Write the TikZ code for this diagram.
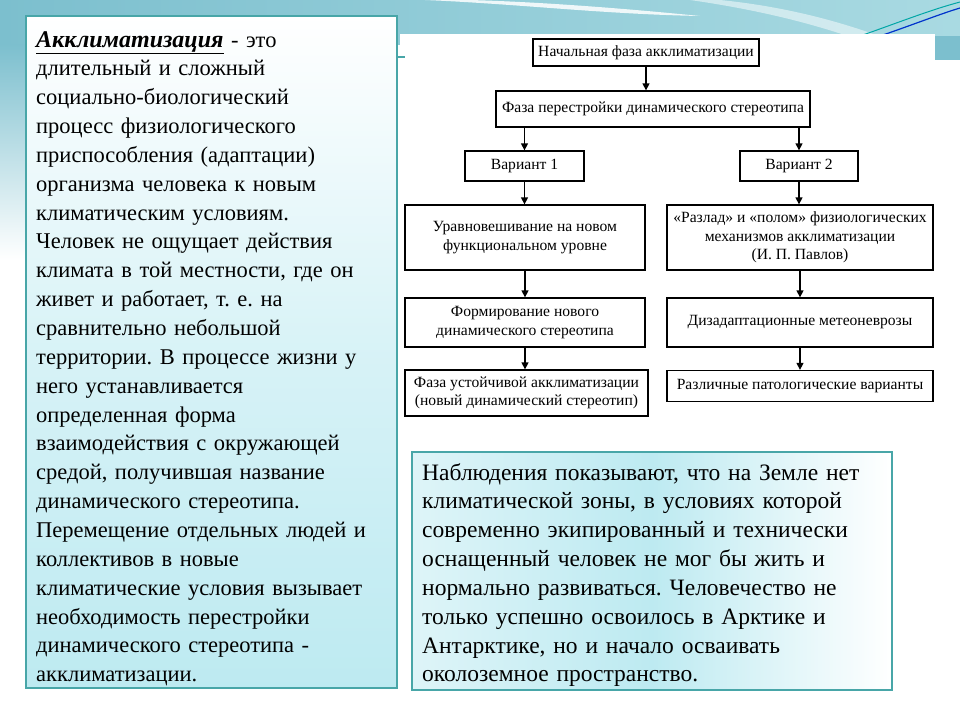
\documentclass[tikz,border=0pt]{standalone}
\usepackage{fontspec}
\setmainfont{Liberation Serif}
\frenchspacing
\usetikzlibrary{arrows.meta,shadings}
\definecolor{teal1}{HTML}{7CBFCE}
\definecolor{teal2}{HTML}{A9DAE2}
\definecolor{bordc}{HTML}{48A6A8}
\definecolor{cyanf}{HTML}{BDEAF1}
\tikzset{
  fbox/.style={draw=black, line width=1.3pt, fill=white, inner sep=2pt, align=center,
    font=\fontsize{15.6}{18.5}\selectfont},
  farrow/.style={draw=black, line width=1.3pt, -{Triangle[length=7pt,width=7pt]}},
  tbox/.style={draw=bordc, line width=1.5pt},
}
\begin{document}
\begin{tikzpicture}[x=1pt,y=-1pt]
\useasboundingbox (0,0) rectangle (960,720);
% background
\fill[white] (0,0) rectangle (960,720);
\shade[left color=teal1, right color=teal2] (0,0) rectangle (960,44);
\shade[top color=teal1, bottom color=white] (0,44) rectangle (30,260);
\fill[white, opacity=0.85] (425,0) .. controls (520,4) and (600,14) .. (700,16) .. controls (620,8) and (540,2) .. (470,0) -- cycle;
\fill[white, opacity=0.5] (690,0) .. controls (760,10) and (820,25) .. (870,44) -- (900,44) .. controls (840,20) and (780,6) .. (720,0) -- cycle;
\draw[color=teal!70!cyan, line width=1pt] (860,36) .. controls (900,22) and (930,10) .. (960,2);
\draw[color=blue!60!teal, line width=1.2pt] (880,36) .. controls (915,24) and (940,14) .. (960,8);
\fill[teal1] (935,36) rectangle (960,60);
\fill[white] (400,34) rectangle (935,425);
\draw[bordc, line width=1.5pt] (397,57) -- (405,57);

% left text box
\shade[top color=white, bottom color=cyanf, middle color=white!40!cyanf] (26,16) rectangle (397,688);
\draw[tbox] (26,16) rectangle (397,688);
\node[anchor=base west, inner sep=0, text width=360pt,
  font=\fontsize{22.5}{28.85}\selectfont] (lt) at (36,47) {%
{\fontsize{24}{28.85}\selectfont\underline{\textbf{\textit{Акклиматизация}}}} - это\\
длительный и сложный\\
социально-биологический\\
процесс физиологического\\
приспособления (адаптации)\\
организма человека к новым\\
климатическим условиям.\\
Человек не ощущает действия\\
климата в той местности, где он\\
живет и работает, т. е. на\\
сравнительно небольшой\\
территории. В процессе жизни у\\
него устанавливается\\
определенная форма\\
взаимодействия с окружающей\\
средой, получившая название\\
динамического стереотипа.\\
Перемещение отдельных людей и\\
коллективов в новые\\
климатические условия вызывает\\
необходимость перестройки\\
динамического стереотипа -\\
акклиматизации.};

% bottom right box
\shade[left color=white!50!cyanf, right color=white, middle color=cyanf] (412,452) rectangle (892,690);
\draw[tbox] (412,452) rectangle (892,690);
\node[anchor=base west, inner sep=0, text width=470pt,
  font=\fontsize{23.5}{28.85}\selectfont] (rt) at (422,480) {%
Наблюдения показывают, что на Земле нет\\
климатической зоны, в условиях которой\\
современно экипированный и технически\\
оснащенный человек не мог бы жить и\\
нормально развиваться. Человечество не\\
только успешно освоилось в Арктике и\\
Антарктике, но и начало осваивать\\
околоземное пространство.};

% flowchart
\node[fbox, minimum width=226pt, minimum height=27pt] (b1) at (646,52.5) {Начальная фаза акклиматизации};
\node[fbox, minimum width=314pt, minimum height=36pt] (b2) at (653,109) {Фаза перестройки динамического стереотипа};
\node[fbox, minimum width=119pt, minimum height=30pt] (v1) at (524.5,166) {Вариант 1};
\node[fbox, minimum width=118pt, minimum height=30pt] (v2) at (799,166) {Вариант 2};
\node[fbox, minimum width=240pt, minimum height=65pt] (l4) at (525,237.5) {Уравновешивание на новом\\функциональном уровне};
\node[fbox, minimum width=266pt, minimum height=65pt] (r4) at (800,237.5) {«Разлад» и «полом» физиологических\\механизмов акклиматизации\\(И. П. Павлов)};
\node[fbox, minimum width=240pt, minimum height=49pt] (l5) at (525,322.5) {Формирование нового\\динамического стереотипа};
\node[fbox, minimum width=266pt, minimum height=49pt] (r5) at (800,322.5) {Дизадаптационные метеоневрозы};
\node[fbox, minimum width=243pt, minimum height=46pt] (l6) at (526.5,393) {Фаза устойчивой акклиматизации\\(новый динамический стереотип)};
\node[fbox, minimum width=266pt, minimum height=31pt] (r6) at (800,386) {Различные патологические варианты};

\draw[farrow] (b1.south) -- (b1.south |- b2.north);
\draw[farrow] (v1.north |- b2.south) -- (v1.north);
\draw[farrow] (v2.north |- b2.south) -- (v2.north);
\draw[farrow] (v1.south) -- (v1.south |- l4.north);
\draw[farrow] (v2.south) -- (v2.south |- r4.north);
\draw[farrow] (l4.south) -- (l5.north);
\draw[farrow] (r4.south) -- (r5.north);
\draw[farrow] (l5.south) -- (l5.south |- l6.north);
\draw[farrow] (r5.south) -- (r6.north);
\end{tikzpicture}
\end{document}
